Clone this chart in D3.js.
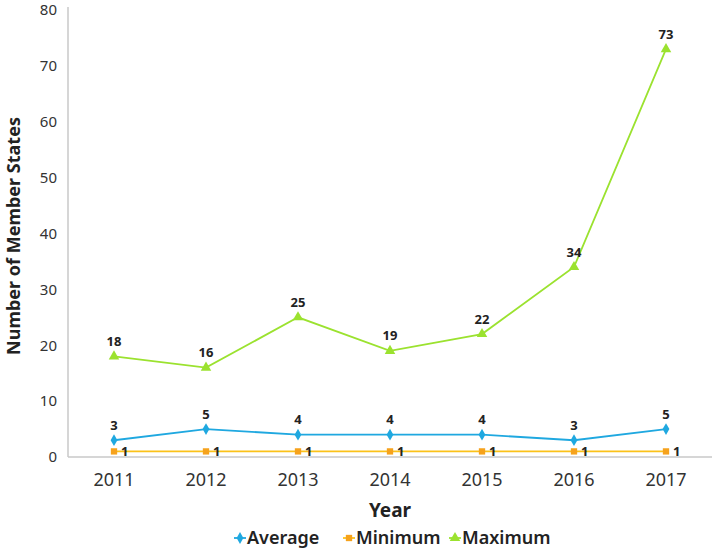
<!DOCTYPE html>
<html><head><meta charset="utf-8">
<script src="https://cdn.jsdelivr.net/npm/d3@7"></script>
<style>body{margin:0;background:#fff}svg{display:block}text{font-family:"Noto Sans","DejaVu Sans",sans-serif}</style>
</head><body><svg id="c" width="714" height="552"></svg>
<script>
const years = ["2011","2012","2013","2014","2015","2016","2017"];
const averageVals = [3,5,4,4,4,3,5];
const minimumVals = [1,1,1,1,1,1,1];
const maximumVals = [18,16,25,19,22,34,73];
const yTicks = [0,10,20,30,40,50,60,70,80];

const series = [
  {name:"Average", values:averageVals, color:"#1fa8e0", marker:"diamond", labelPos:"top"},
  {name:"Minimum", values:minimumVals, color:"#fbc21a", mcolor:"#f6a21c", marker:"square", labelPos:"right"},
  {name:"Maximum", values:maximumVals, color:"#9be22f", marker:"triangle", labelPos:"top"}
];

const svg = d3.select("#c");
const L=68, R=712, T=10, B=457;
const x = d3.scaleBand().domain(years).range([L,R]);
const y = d3.scaleLinear().domain([0,80]).range([B,T]);
const cx = d => x(d)+x.bandwidth()/2;

svg.append("line").attr("x1",L).attr("x2",L).attr("y1",T-3).attr("y2",B).attr("stroke","#c8c8c8").attr("stroke-width",1.5);
svg.append("line").attr("x1",L).attr("x2",R).attr("y1",B).attr("y2",B).attr("stroke","#c8c8c8").attr("stroke-width",1.5);

svg.append("g").selectAll("text").data(yTicks).join("text")
  .attr("x",57).attr("y",d=>y(d)).attr("dy","0.35em").attr("text-anchor","end")
  .attr("font-size",15).attr("fill","#333").text(d=>d);

svg.append("g").selectAll("text").data(years).join("text")
  .attr("x",d=>cx(d)).attr("y",480).attr("dy","0.35em").attr("text-anchor","middle")
  .attr("font-size",18).attr("fill","#333").text(d=>d);

svg.append("text").attr("x",cx("2014")).attr("y",510).attr("dy","0.35em").attr("text-anchor","middle")
  .attr("font-size",19).attr("font-weight","bold").attr("fill","#222").text("Year");
svg.append("text").attr("transform","translate(14,236) rotate(-90)").attr("dy","0.35em").attr("text-anchor","middle")
  .attr("font-size",18).attr("font-weight","bold").attr("fill","#222").text("Number of Member States");

function sym(type){
  if(type==="diamond") return d3.symbol(d3.symbolDiamond,40)();
  if(type==="square") return d3.symbol(d3.symbolSquare,40)();
  return d3.symbol(d3.symbolTriangle,48)();
}
const line = d3.line().x((d,i)=>cx(years[i])).y(d=>y(d));

series.forEach(s=>{
  const g = svg.append("g");
  g.append("path").attr("d",line(s.values)).attr("fill","none").attr("stroke",s.color).attr("stroke-width",1.8);
  g.selectAll("path.m").data(s.values).join("path").attr("class","m")
    .attr("transform",(d,i)=>`translate(${cx(years[i])},${y(d)})`)
    .attr("d",sym(s.marker)).attr("fill",s.mcolor||s.color);
  g.selectAll("text").data(s.values).join("text")
    .attr("x",(d,i)=>cx(years[i])+(s.labelPos==="right"?7:0))
    .attr("y",d=>y(d)+(s.labelPos==="right"?0:-15))
    .attr("dy","0.35em").attr("text-anchor",s.labelPos==="right"?"start":"middle")
    .attr("font-size",13).attr("font-weight","bold").attr("fill","#222").text(d=>d);
});

const legX = [247,356,462];
series.forEach((s,i)=>{
  const g = svg.append("g").attr("transform",`translate(${legX[i]},538)`);
  g.append("line").attr("x1",-13).attr("x2",-1).attr("stroke",s.color).attr("stroke-width",1.8);
  g.append("path").attr("transform","translate(-7,0)").attr("d",sym(s.marker)).attr("fill",s.mcolor||s.color);
  g.append("text").attr("x",0).attr("dy","0.35em").attr("font-size",18).attr("font-weight",600).attr("fill","#222").text(s.name);
});
</script></body></html>
